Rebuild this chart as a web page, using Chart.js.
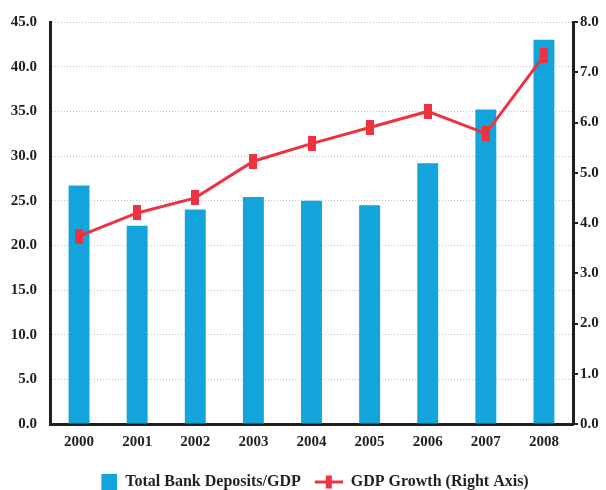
<!DOCTYPE html>
<html>
<head>
<meta charset="utf-8">
<script src="https://cdn.jsdelivr.net/npm/chart.js@4/dist/chart.umd.min.js"></script>
<style>
  html, body { margin: 0; padding: 0; background: #fff; }
  #wrap { width: 606px; height: 490px; position: relative; }
</style>
</head>
<body>
<div id="wrap"><canvas id="chart"></canvas></div>
<script>
// data
const years = ['2000', '2001', '2002', '2003', '2004', '2005', '2006', '2007', '2008'];
const depositsToGdp = [26.7, 22.2, 24.0, 25.4, 25.0, 24.5, 29.2, 35.2, 43.0];
const gdpGrowth = [3.74, 4.2, 4.5, 5.23, 5.58, 5.9, 6.22, 5.78, 7.33];
const leftTicks = ['0.0', '5.0', '10.0', '15.0', '20.0', '25.0', '30.0', '35.0', '40.0', '45.0'];
const rightTicks = ['0.0', '1.0', '2.0', '3.0', '4.0', '5.0', '6.0', '7.0', '8.0'];

const blue = '#13a4db';
const red = '#ee3340';
const ink = '#231f20';
const font = 'Liberation Serif';

// small red bar used as the line marker
function markerImage() {
    const c = document.createElement('canvas');
    c.width = 8; c.height = 15;
    const g = c.getContext('2d');
    g.fillStyle = red;
    g.fillRect(0, 0, 8, 15);
    return c;
}

// legend swatches (left part left blank to space the items)
function boxImage() {
    const c = document.createElement('canvas');
    c.width = 40; c.height = 17;
    const g = c.getContext('2d');
    g.fillStyle = blue;
    g.fillRect(24, 0, 16, 17);
    return c;
}

function plusImage() {
    const c = document.createElement('canvas');
    c.width = 40; c.height = 17;
    const g = c.getContext('2d');
    g.fillStyle = red;
    g.fillRect(12, 7, 28, 3);
    g.fillRect(23, 2, 6, 13);
    return c;
}

const marker = markerImage();
const boxSwatch = boxImage();
const plusSwatch = plusImage();

const ctx = document.getElementById('chart').getContext('2d');
const chart = new Chart(ctx, {
    data: {
        labels: years,
        datasets: [{
            type: 'bar',
            label: 'Total Bank Deposits/GDP',
            data: depositsToGdp,
            backgroundColor: blue,
            yAxisID: 'y',
            categoryPercentage: 1,
            barPercentage: 0.36,
            order: 1
        }, {
            type: 'line',
            label: 'GDP Growth (Right Axis)',
            data: gdpGrowth,
            borderColor: red,
            backgroundColor: red,
            borderWidth: 3,
            pointStyle: marker,
            pointRadius: 7,
            tension: 0,
            yAxisID: 'y1',
            order: 0
        }]
    },
    options: {
        responsive: true,
        maintainAspectRatio: false,
        animation: false,
        layout: { padding: { top: 14, left: 0, right: 0, bottom: -10 } },
        plugins: {
            tooltip: { enabled: false },
            legend: {
                position: 'bottom',
                labels: {
                    usePointStyle: true,
                    pointStyleWidth: 40,
                    boxHeight: 17,
                    padding: 2,
                    color: ink,
                    font: { family: font, size: 16, weight: 'bold' },
                    generateLabels: function (chart) {
                        const items = Chart.defaults.plugins.legend.labels.generateLabels(chart);
                        items.forEach(function (it) {
                            it.pointStyle = it.datasetIndex === 0 ? boxSwatch : plusSwatch;
                        });
                        return items.sort(function (a, b) { return a.datasetIndex - b.datasetIndex; });
                    }
                }
            }
        },
        scales: {
            x: {
                offset: true,
                grid: { display: true, drawOnChartArea: false, drawTicks: false },
                border: { display: true, color: ink, width: 3 },
                ticks: {
                    color: ink,
                    padding: 9,
                    font: { family: font, size: 15, weight: 'bold' }
                },
                afterFit: function (scale) { scale.height = 48; }
            },
            y: {
                position: 'left',
                min: 0,
                max: 45,
                grid: { color: '#c4c4c4', lineWidth: 1, drawTicks: false },
                border: { display: true, color: ink, width: 3, dash: [1, 2] },
                ticks: {
                    stepSize: 5,
                    color: ink,
                    padding: 13,
                    font: { family: font, size: 15, weight: 'bold' },
                    callback: function (v, i) { return leftTicks[i]; }
                },
                afterFit: function (scale) { scale.width = 50; }
            },
            y1: {
                position: 'right',
                min: 0,
                max: 8,
                grid: { drawOnChartArea: false, drawTicks: true, tickLength: 5, color: ink, lineWidth: 2 },
                border: { display: true, color: ink, width: 3 },
                ticks: {
                    stepSize: 1,
                    color: ink,
                    padding: 2,
                    font: { family: font, size: 15, weight: 'bold' },
                    callback: function (v, i) { return rightTicks[i]; }
                },
                afterFit: function (scale) { scale.width = 33; }
            }
        }
    }
});
</script>
</body>
</html>
